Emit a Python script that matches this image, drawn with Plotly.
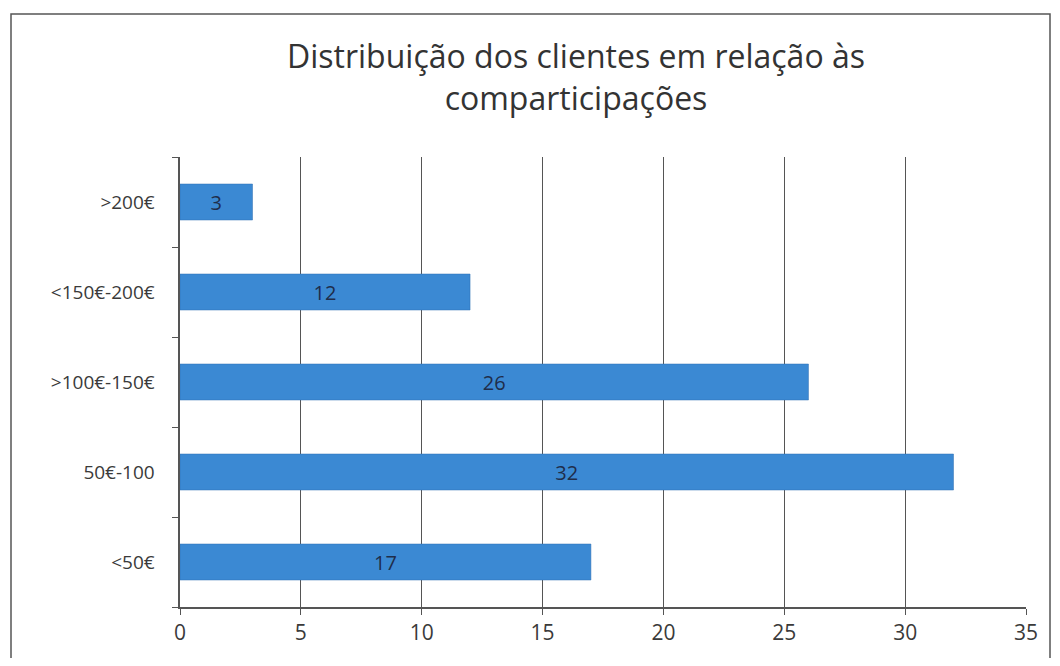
import plotly.graph_objects as go

categories = ["<50€", "50€-100", ">100€-150€", "<150€-200€", ">200€"]
values = [17, 32, 26, 12, 3]
x_ticks = [0, 5, 10, 15, 20, 25, 30, 35]

OFF = 8  # page body margin
W, H = 1060 - 2 * OFF, 666 - 2 * OFF
# target page pixels: plot x 180..1026, y 157..607
L, T = 180 - OFF, 157 - OFF
R = (W + OFF) - 1026
B = (H + OFF) - 607
pw, ph = W - L - R, H - T - B

FONT = "Open Sans, Liberation Sans, sans-serif"

fig = go.Figure()
fig.add_trace(go.Bar(
    y=categories, x=values, orientation="h",
    marker=dict(color="#3b89d3", line=dict(color="#2f6fb0", width=0.5)),
    width=0.4,
    text=[str(v) for v in values], textposition="inside", insidetextanchor="middle",
    textfont=dict(family=FONT, size=20, color="#1f2d4a"),
    hoverinfo="skip",
))

def px_to_paper_x(px):
    return (px - OFF - L) / pw

def px_to_paper_y(py):
    return 1 - (py - OFF - T) / ph

fig.add_shape(type="rect", xref="paper", yref="paper",
              x0=px_to_paper_x(11), x1=px_to_paper_x(1050),
              y0=px_to_paper_y(664), y1=px_to_paper_y(14),
              line=dict(color="#555555", width=1.5), fillcolor="rgba(0,0,0,0)", layer="below")

fig.update_layout(
    width=W, height=H,
    margin=dict(l=L, r=R, t=T, b=B, pad=0),
    paper_bgcolor="white", plot_bgcolor="white",
    showlegend=False,
    title=dict(
        text="Distribuição dos clientes em relação às<br>comparticipações",
        x=(576 - OFF) / W, xanchor="center", y=1 - (68 - OFF) / H, yanchor="middle",
        font=dict(family=FONT, size=32, color="#333333"),
    ),
    xaxis=dict(
        range=[0, 35], tickvals=x_ticks, ticktext=[str(t) for t in x_ticks],
        showgrid=True, gridcolor="#555555", gridwidth=1,
        showline=True, linecolor="#555555", linewidth=1.5,
        ticks="outside", ticklen=6, tickcolor="#555555",
        tickfont=dict(family=FONT, size=21, color="#3a3a3a"),
        zeroline=False, fixedrange=True,
    ),
    yaxis=dict(
        type="category", categoryorder="array", categoryarray=categories,
        showline=True, linecolor="#555555", linewidth=1.5,
        ticks="outside", ticklen=6, tickcolor="#555555", tickson="boundaries",
        showgrid=False,
        tickfont=dict(family=FONT, size=19, color="#3a3a3a"),
        ticksuffix="    ", fixedrange=True,
    ),
)

fig.write_html("out.html")
